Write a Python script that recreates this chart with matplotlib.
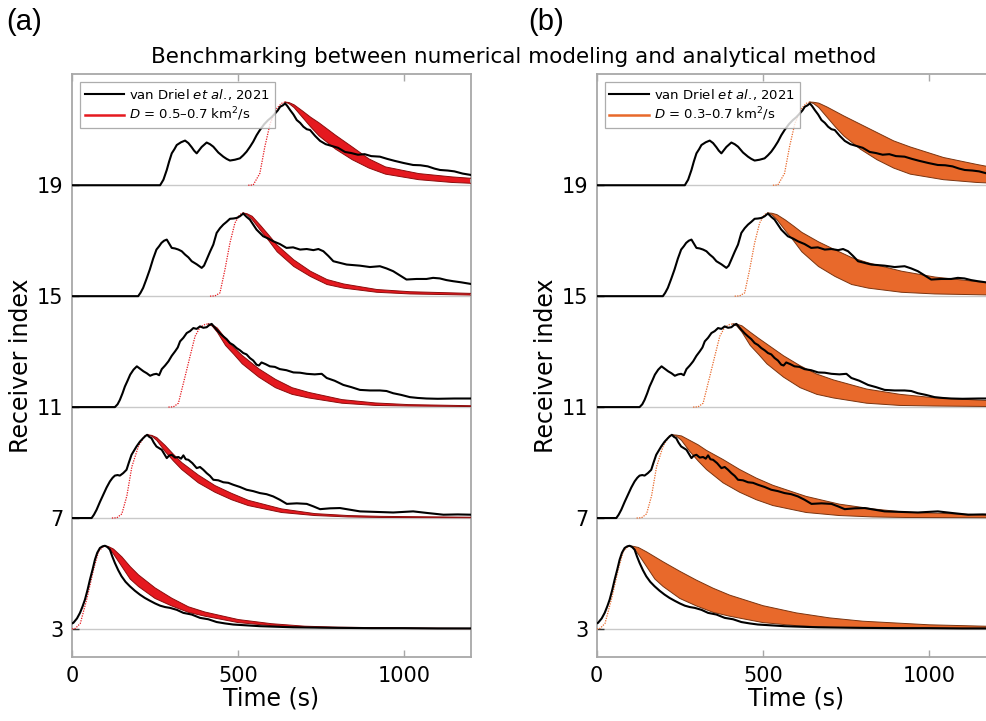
import matplotlib
matplotlib.use("Agg")
import matplotlib.pyplot as plt
from matplotlib.lines import Line2D

# ---------------- data ----------------
offsets = [3, 7, 11, 15, 19]

# observed (van Driel et al., 2021) normalized traces, amplitude above baseline
obs3_t = [0, 4, 15, 24, 32, 39, 47, 54, 62, 69,
          76, 84, 92, 99, 106, 114, 121, 129, 139, 149,
          161, 174, 189, 204, 219, 234, 250, 265, 280, 295,
          315, 335, 360, 385, 410, 435, 460, 485, 525, 565,
          615, 666, 730, 800, 900, 1000, 1100, 1200]
obs3_a = [0.2, 0.22, 0.38, 0.58, 0.82, 1.06, 1.42, 1.78, 2.15, 2.5,
          2.75, 2.92, 2.98, 3.0, 2.96, 2.86, 2.62, 2.38, 2.12, 1.9,
          1.7, 1.54, 1.38, 1.24, 1.12, 1.02, 0.92, 0.84, 0.79, 0.76,
          0.69, 0.58, 0.52, 0.40, 0.35, 0.25, 0.20, 0.16, 0.13, 0.10,
          0.08, 0.06, 0.05, 0.04, 0.03, 0.03, 0.02, 0.02]

obs7_t = [0, 59, 66, 74, 84, 94, 104, 114, 122, 129,
          137, 144, 154, 164, 171, 179, 186, 194, 204, 214,
          220, 226, 232, 239, 246, 254, 262, 270, 277, 285,
          292, 300, 310, 320, 328, 335, 342, 350, 362, 375,
          385, 395, 405, 415, 425, 440, 455, 470, 485, 505,
          525, 545, 565, 585, 605, 625, 646, 676, 706, 726,
          746, 776, 806, 836, 866, 916, 966, 996, 1026, 1070,
          1117, 1160, 1200]
obs7_a = [0, 0, 0.12, 0.30, 0.58, 0.84, 1.1, 1.32, 1.45, 1.53,
          1.55, 1.53, 1.62, 1.74, 2.0, 2.28, 2.42, 2.58, 2.75, 2.88,
          2.95, 3.0, 2.93, 2.88, 2.72, 2.58, 2.52, 2.46, 2.32, 2.16,
          2.25, 2.28, 2.18, 2.20, 2.14, 2.26, 2.12, 2.10, 1.98, 1.80,
          1.84, 1.74, 1.62, 1.52, 1.38, 1.36, 1.29, 1.27, 1.20, 1.12,
          1.02, 0.97, 0.90, 0.86, 0.78, 0.66, 0.51, 0.53, 0.51, 0.42,
          0.32, 0.35, 0.36, 0.30, 0.24, 0.22, 0.20, 0.22, 0.24, 0.18,
          0.12, 0.13, 0.12]

obs11_t = [0, 129, 137, 144, 152, 159, 167, 175, 185, 195,
           205, 215, 225, 235, 245, 254, 262, 270, 280, 290,
           300, 310, 318, 325, 335, 345, 355, 365, 375, 385,
           395, 405, 412, 420, 427, 435, 445, 455, 465, 475,
           485, 495, 505, 515, 525, 535, 545, 555, 562, 570,
           582, 595, 610, 625, 645, 666, 686, 706, 730, 751,
           766, 790, 816, 840, 866, 896, 926, 946, 966, 990,
           1016, 1040, 1066, 1100, 1150, 1200]
obs11_a = [0, 0, 0.1, 0.26, 0.5, 0.74, 0.95, 1.17, 1.35, 1.47,
           1.38, 1.29, 1.22, 1.13, 1.18, 1.20, 1.15, 1.37, 1.5, 1.65,
           1.85, 2.01, 2.15, 2.37, 2.5, 2.67, 2.74, 2.85, 2.82, 2.91,
           2.86, 2.88, 2.95, 3.0, 2.9, 2.79, 2.66, 2.55, 2.45, 2.31,
           2.24, 2.13, 2.05, 1.95, 1.9, 1.77, 1.68, 1.53, 1.50, 1.61,
           1.55, 1.47, 1.45, 1.37, 1.33, 1.25, 1.24, 1.20, 1.18, 1.20,
           1.05, 0.95, 0.80, 0.72, 0.62, 0.60, 0.60, 0.58, 0.50, 0.44,
           0.36, 0.33, 0.31, 0.30, 0.31, 0.31]

obs15_t = [0, 199, 206, 214, 224, 234, 244, 254, 262, 269,
           277, 285, 292, 300, 310, 320, 330, 340, 350, 360,
           375, 390, 397, 405, 415, 425, 435, 445, 455, 465,
           475, 485, 495, 505, 515, 525, 535, 545, 555, 565,
           575, 590, 605, 625, 645, 665, 686, 706, 726, 741,
           756, 771, 786, 806, 826, 846, 866, 896, 926, 946,
           966, 986, 1006, 1036, 1066, 1086, 1106, 1126, 1146, 1170,
           1200]
obs15_a = [0, 0, 0.12, 0.30, 0.62, 0.96, 1.35, 1.68, 1.8, 1.92,
           2.0, 2.04, 1.9, 1.74, 1.72, 1.68, 1.62, 1.50, 1.40, 1.26,
           1.15, 1.02, 1.1, 1.32, 1.6, 1.86, 2.28, 2.45, 2.58, 2.68,
           2.79, 2.80, 2.82, 2.88, 2.98, 2.86, 2.76, 2.58, 2.40, 2.28,
           2.16, 2.08, 1.98, 1.88, 1.74, 1.76, 1.68, 1.70, 1.66, 1.70,
           1.62, 1.45, 1.26, 1.20, 1.14, 1.12, 1.10, 1.05, 1.08, 1.0,
           0.90, 0.75, 0.60, 0.62, 0.62, 0.66, 0.64, 0.58, 0.54, 0.50,
           0.44]

obs19_t = [0, 265, 275, 285, 292, 300, 308, 315, 328, 340,
           350, 360, 367, 375, 390, 405, 415, 425, 440, 455,
           465, 475, 490, 505, 515, 525, 535, 545, 555, 565,
           578, 590, 600, 611, 619, 626, 634, 641, 648, 656,
           666, 676, 686, 696, 706, 716, 731, 746, 763, 780,
           800, 821, 840, 860, 880, 900, 926, 948, 970, 998,
           1026, 1048, 1070, 1090, 1107, 1130, 1150, 1175, 1200]
obs19_a = [0, 0, 0.2, 0.55, 0.85, 1.15, 1.3, 1.45, 1.55, 1.61,
           1.52, 1.37, 1.25, 1.15, 1.38, 1.54, 1.48, 1.39, 1.18, 1.03,
           0.95, 0.89, 0.92, 0.97, 1.08, 1.21, 1.38, 1.57, 1.80, 1.99,
           2.20, 2.35, 2.45, 2.59, 2.70, 2.83, 2.88, 2.95, 2.85, 2.71,
           2.55, 2.35, 2.25, 2.11, 2.02, 1.99, 1.78, 1.60, 1.48, 1.42,
           1.35, 1.20, 1.16, 1.10, 1.12, 1.05, 1.03, 0.95, 0.88, 0.80,
           0.73, 0.72, 0.68, 0.60, 0.55, 0.53, 0.50, 0.42, 0.37]

# model rise (before peak)
rise3_t = [0, 10, 25, 45, 65, 80, 97]
rise3_a = [0, 0.02, 0.2, 1.1, 2.15, 2.8, 3.0]
rise7_t = [120, 135, 150, 165, 180, 200, 218, 228]
rise7_a = [0, 0.01, 0.15, 0.8, 1.85, 2.6, 2.95, 3.0]
rise11_t = [290, 305, 320, 340, 355, 370, 385, 400, 410]
rise11_a = [0, 0.01, 0.14, 1.1, 1.83, 2.55, 2.88, 2.98, 3.0]
rise15_t = [415, 430, 445, 460, 475, 490, 505, 515]
rise15_a = [0, 0.01, 0.12, 0.96, 1.92, 2.64, 2.95, 3.0]
rise19_t = [530, 545, 565, 580, 596, 616, 630, 641]
rise19_a = [0, 0.01, 0.43, 1.39, 2.23, 2.77, 2.95, 3.0]

# model decay envelopes: D=0.7 (low), D=0.5 (upA), D=0.3 (upB)
band3_t = [97, 110, 125, 150, 175, 200, 250, 300, 350, 400, 500, 600, 700, 800, 1000, 1200]
low3 = [3.0, 2.93, 2.7, 2.25, 1.8, 1.53, 1.1, 0.83, 0.6, 0.46, 0.23, 0.12, 0.06, 0.035, 0.015, 0.01]
upA3 = [3.0, 2.97, 2.88, 2.6, 2.25, 1.95, 1.48, 1.11, 0.80, 0.61, 0.34, 0.19, 0.10, 0.065, 0.035, 0.02]
upB3 = [3.0, 2.98, 2.94, 2.78, 2.6, 2.42, 2.08, 1.76, 1.47, 1.22, 0.84, 0.58, 0.40, 0.28, 0.15, 0.09]

band7_t = [228, 240, 255, 280, 305, 330, 380, 430, 480, 530, 630, 730, 830, 930, 1200]
low7 = [3.0, 2.95, 2.8, 2.4, 2.06, 1.75, 1.27, 0.93, 0.66, 0.45, 0.2, 0.09, 0.04, 0.02, 0.01]
upA7 = [3.0, 2.98, 2.9, 2.62, 2.3, 2.0, 1.55, 1.17, 0.89, 0.64, 0.33, 0.16, 0.09, 0.06, 0.03]
upB7 = [3.0, 2.99, 2.96, 2.8, 2.64, 2.44, 2.11, 1.75, 1.44, 1.18, 0.78, 0.5, 0.33, 0.21, 0.1]

band11_t = [410, 422, 437, 462, 487, 512, 562, 612, 662, 712, 812, 912, 1012, 1200]
low11 = [3.0, 2.92, 2.7, 2.22, 1.9, 1.56, 1.08, 0.7, 0.46, 0.33, 0.14, 0.06, 0.04, 0.02]
upA11 = [3.0, 2.97, 2.85, 2.47, 2.15, 1.86, 1.38, 1.0, 0.7, 0.53, 0.27, 0.15, 0.09, 0.05]
upB11 = [3.0, 2.99, 2.93, 2.7, 2.48, 2.27, 1.85, 1.49, 1.19, 0.98, 0.65, 0.46, 0.34, 0.22]

band15_t = [515, 527, 542, 567, 592, 617, 667, 717, 767, 817, 917, 1017, 1200]
low15 = [3.0, 2.93, 2.76, 2.37, 2.0, 1.6, 1.07, 0.71, 0.42, 0.29, 0.14, 0.08, 0.04]
upA15 = [3.0, 2.97, 2.88, 2.55, 2.2, 1.84, 1.31, 0.9, 0.6, 0.44, 0.24, 0.16, 0.1]
upB15 = [3.0, 2.99, 2.94, 2.75, 2.53, 2.3, 1.96, 1.67, 1.39, 1.2, 0.9, 0.69, 0.45]

band19_t = [641, 653, 668, 693, 718, 743, 793, 843, 893, 943, 1043, 1143, 1200]
low19 = [3.0, 2.94, 2.8, 2.45, 2.1, 1.78, 1.3, 0.92, 0.62, 0.4, 0.2, 0.1, 0.07]
upA19 = [3.0, 2.98, 2.9, 2.68, 2.45, 2.25, 1.8, 1.38, 0.95, 0.66, 0.42, 0.3, 0.25]
upB19 = [3.0, 2.99, 2.96, 2.82, 2.66, 2.5, 2.2, 1.9, 1.6, 1.38, 1.0, 0.75, 0.62]

x_ticks = [0, 500, 1000]
y_ticks = [3, 7, 11, 15, 19]
title = "Benchmarking between numerical modeling and analytical method"
legend_obs = r"van Driel $\mathit{et\ al.}\!$, 2021"
legend_a = r"$\it{D}$ = 0.5–0.7 km$^2$/s"
legend_b = r"$\it{D}$ = 0.3–0.7 km$^2$/s"

# ---------------- tables ----------------
obs_t = [obs3_t, obs7_t, obs11_t, obs15_t, obs19_t]
obs_a = [obs3_a, obs7_a, obs11_a, obs15_a, obs19_a]
rise_t = [rise3_t, rise7_t, rise11_t, rise15_t, rise19_t]
rise_a = [rise3_a, rise7_a, rise11_a, rise15_a, rise19_a]
band_t = [band3_t, band7_t, band11_t, band15_t, band19_t]
lows = [low3, low7, low11, low15, low19]
upsA = [upA3, upA7, upA11, upA15, upA19]
upsB = [upB3, upB7, upB11, upB15, upB19]

plt.rcParams['font.family'] = ['DejaVu Sans']
plt.rcParams['mathtext.fontset'] = 'dejavusans'

W, H = 987, 721
fig = plt.figure(figsize=(W / 100, H / 100), dpi=100)

ax_top, ax_bot = 74.3, 656.7
axw = 399
axA = fig.add_axes([72 / W, 1 - ax_bot / H, axw / W, (ax_bot - ax_top) / H])
axB = fig.add_axes([596.7 / W, 1 - ax_bot / H, axw / W, (ax_bot - ax_top) / H])

spine_col = '#a8a8a8'


def draw(ax, ups, fill, edge, dotcol, leg_label):
    for i, off in enumerate(offsets):
        ax.axhline(off, color='#c9c9c9', lw=1.0, zorder=1)
        lo = [off + v for v in lows[i]]
        hi = [off + v for v in ups[i]]
        ax.fill_between(band_t[i], lo, hi, facecolor=fill, edgecolor='none', zorder=2)
        ax.plot(band_t[i], lo, color=edge, lw=0.7, zorder=3)
        ax.plot(band_t[i], hi, color=edge, lw=0.7, zorder=3)
        ax.plot(rise_t[i], [off + v for v in rise_a[i]], color=dotcol, lw=0.9,
                ls=(0, (1, 1)), zorder=3)
        ax.plot(obs_t[i], [off + v for v in obs_a[i]], color='black', lw=1.5, zorder=4)
    ax.set_xlim(0, 1200)
    ax.set_ylim(2.0, 23.0)
    ax.set_xticks(x_ticks)
    ax.set_yticks(y_ticks)
    ax.tick_params(axis='x', direction='in', top=True, bottom=True, length=5,
                   width=1, color=spine_col, labelsize=15, pad=7)
    ax.tick_params(axis='y', direction='in', left=True, right=False, length=5,
                   width=1, color='#333333', labelsize=15, pad=6)
    for s in ax.spines.values():
        s.set_color(spine_col)
        s.set_linewidth(1.3)
    ax.set_xlabel("Time (s)", fontsize=17, labelpad=0)
    ax.set_ylabel("Receiver index", fontsize=17, labelpad=3)
    handles = [Line2D([], [], color='black', lw=1.5),
               Line2D([], [], color=fill, lw=1.8)]
    leg = ax.legend(handles, [legend_obs, leg_label], loc='upper left', fontsize=9.5,
                    frameon=True, fancybox=False, edgecolor='#999999',
                    handlelength=3.0, handletextpad=0.4, borderpad=0.35,
                    labelspacing=0.3, borderaxespad=0.6)
    leg.get_frame().set_linewidth(0.9)


draw(axA, upsA, '#e5191f', '#8c0c0c', '#e5191f', legend_a)
draw(axB, upsB, '#e8692b', '#7a3410', '#e8692b', legend_b)

fig.text(514 / W, 1 - 57 / H, title, ha='center', va='center', fontsize=15.5)
fig.text(6 / W, 1 - 22 / H, "(a)", ha='left', va='center', fontsize=21,
         family=['Liberation Sans Narrow', 'Liberation Sans'])
fig.text(528 / W, 1 - 22 / H, "(b)", ha='left', va='center', fontsize=21,
         family=['Liberation Sans Narrow', 'Liberation Sans'])

fig.savefig("out.png", dpi=100)
